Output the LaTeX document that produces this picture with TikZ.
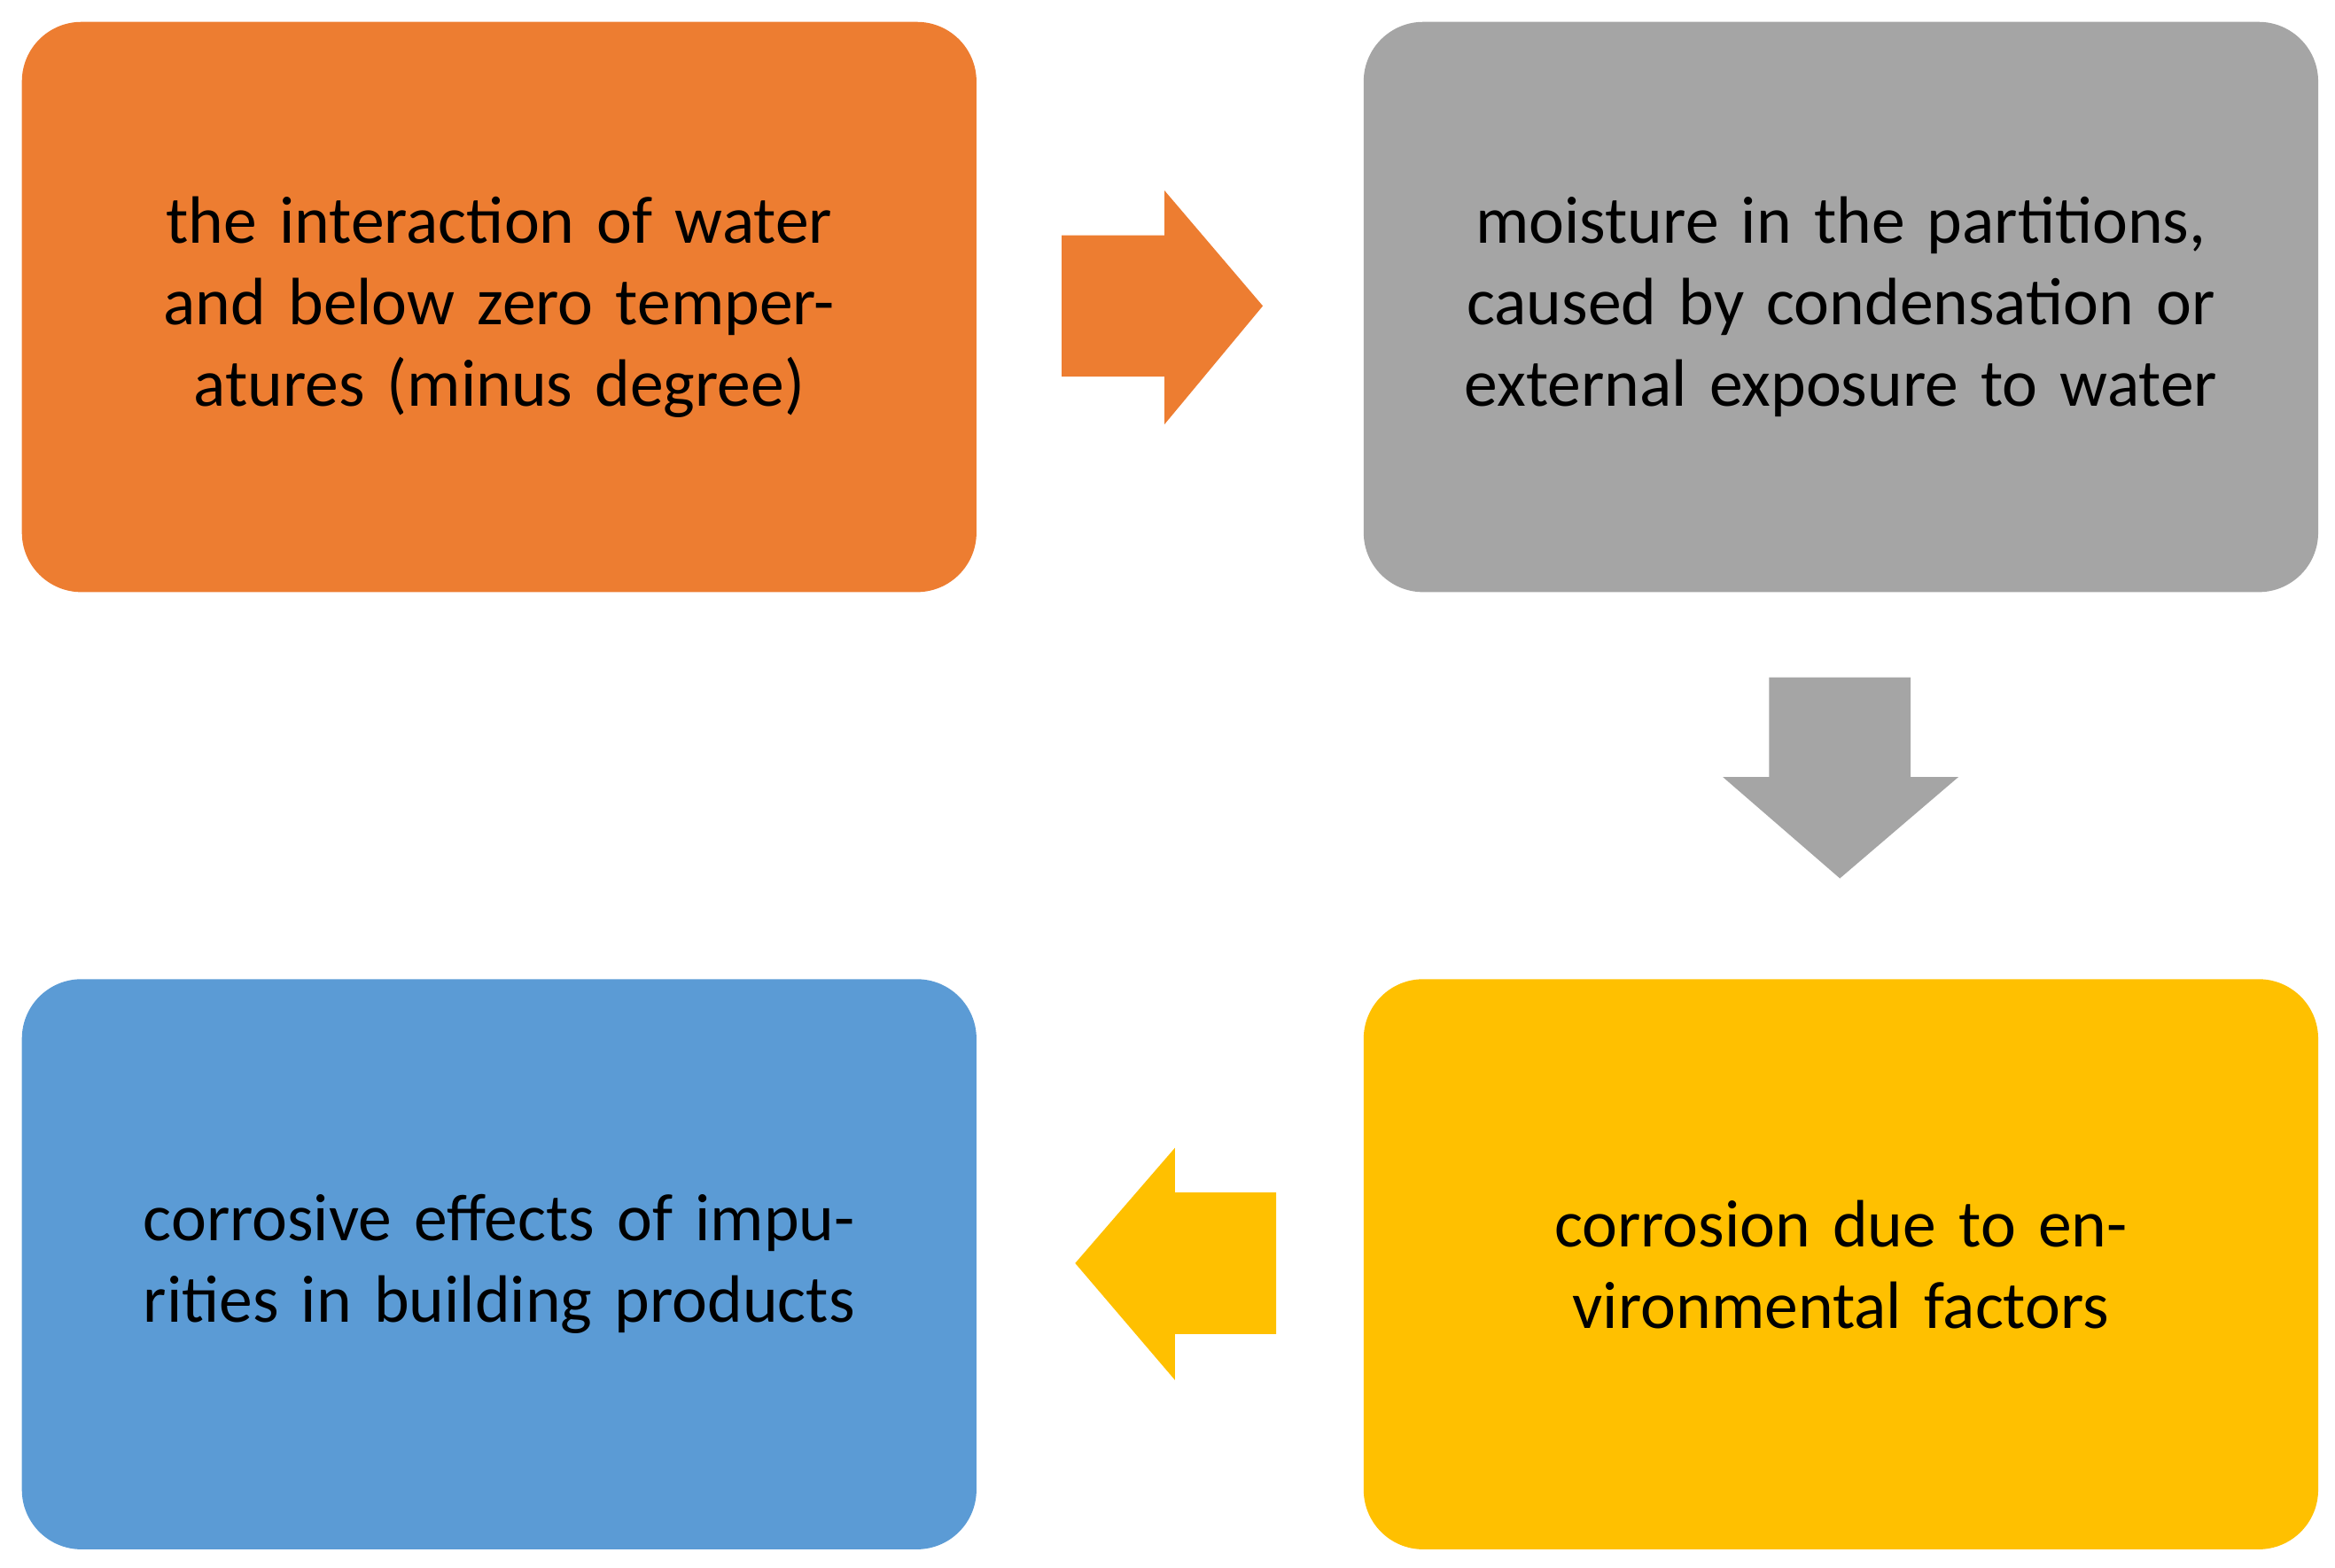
\documentclass[tikz,border=0pt]{standalone}
\usepackage{fontspec}
\setmainfont{Carlito}
\usetikzlibrary{positioning}
\definecolor{boxorange}{HTML}{ED7D31}
\definecolor{boxgray}{HTML}{A5A5A5}
\definecolor{boxgold}{HTML}{FFC000}
\definecolor{boxblue}{HTML}{5B9BD5}
\tikzset{
  stage/.style={
    rectangle,
    rounded corners=0.4cm,
    minimum width=6.41cm,
    minimum height=3.83cm,
    text width=5.9cm,
    align=center,
    font=\fontsize{12.8pt}{15.6pt}\selectfont
  }
}
\begin{document}
\begin{tikzpicture}[x=1mm,y=-1mm]
  \useasboundingbox (0,0) rectangle (156.8,105.3);

  % boxes
  \node[stage, fill=boxorange, anchor=north west] (interaction) at (1.4,1.4)
    {the interaction of water and below zero temperatures (minus degree)};
  \node[stage, fill=boxgray, anchor=north west] (moisture) at (91.5,1.4)
    {moisture in the partitions, caused by condensation or external exposure to water};
  \node[stage, fill=boxgold, anchor=north west] (corrosion) at (91.5,65.7)
    {corrosion due to environmental factors};
  \node[stage, fill=boxblue, anchor=north west] (impurities) at (1.4,65.7)
    {corrosive effects of impurities in building products};

  % arrows
  \fill[boxorange] (71.3,15.8) -- (78.2,15.8) -- (78.2,12.8) -- (84.8,20.55)
    -- (78.2,28.5) -- (78.2,25.3) -- (71.3,25.3) -- cycle;
  \fill[boxgray] (118.8,45.5) -- (128.3,45.5) -- (128.3,52.2) -- (131.5,52.2)
    -- (123.55,59.0) -- (115.7,52.2) -- (118.8,52.2) -- cycle;
  \fill[boxgold] (85.7,80.1) -- (78.9,80.1) -- (78.9,77.1) -- (72.2,84.85)
    -- (78.9,92.7) -- (78.9,89.6) -- (85.7,89.6) -- cycle;
\end{tikzpicture}
\end{document}
